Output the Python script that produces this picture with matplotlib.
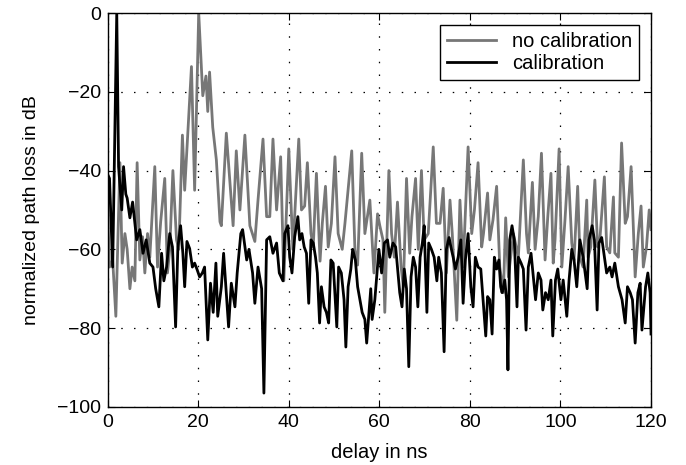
import matplotlib
matplotlib.use('Agg')
import matplotlib.pyplot as plt

plt.rcParams['font.family'] = ['Liberation Sans', 'DejaVu Sans']

# "no calibration" trace, (delay in ns, dB)
t_nocal = [0.0, 0.4, 1.1, 1.8, 2.2, 2.7, 3.2, 3.8, 4.3, 4.9, 5.4, 6.0, 6.5, 7.1, 7.7,
           8.2, 8.8, 9.3, 10.4, 11.0, 11.7, 12.6, 13.2, 13.7, 14.4, 15.2, 15.7, 16.5,
           17.0, 18.5, 19.2, 20.1, 21.0, 21.7, 22.1, 22.5, 23.2, 24.0, 24.8, 25.1,
           26.2, 27.0, 27.7, 28.4, 29.2, 30.3, 31.4, 32.5, 33.2, 34.3, 35.1, 35.8,
           36.5, 37.3, 38.2, 38.9, 40.0, 40.9, 42.2, 42.8, 43.5, 44.1, 44.9, 45.4,
           46.1, 46.9, 47.4, 48.1, 48.7, 49.4, 50.2, 50.9, 51.8, 52.4, 53.9, 54.6,
           55.2, 56.1, 56.8, 57.9, 58.8, 59.6, 60.1, 60.8, 61.2, 62.1, 62.7, 63.3,
           64.0, 64.8, 65.3, 66.0, 66.7, 67.2, 68.0, 68.6, 69.3, 69.9, 70.8, 71.9,
           72.6, 73.4, 74.1, 74.8, 75.6, 76.1, 77.1, 77.8, 78.5, 79.6, 80.4, 81.0,
           81.8, 82.6, 83.0, 83.9, 84.4, 85.1, 85.9, 86.6, 87.4, 87.9, 88.5, 89.6,
           90.7, 91.8, 92.5, 92.9, 93.8, 94.4, 95.1, 95.8, 96.6, 97.2, 97.9, 98.4,
           98.8, 99.7, 100.3, 101.0, 101.7, 102.5, 103.0, 103.8, 104.3, 105.0, 105.8,
           106.1, 106.7, 107.6, 108.2, 108.7, 109.7, 110.2, 110.9, 111.7, 112.0,
           112.8, 113.5, 114.3, 114.8, 115.6, 116.5, 117.2, 117.8, 118.3, 119.0,
           119.6, 120.0]
db_nocal = [-50, -64.5, -62.7, -77, -60, -38, -63.5, -56, -60, -70, -64.5, -68, -38,
            -62.7, -56.8, -66, -56, -62, -39, -64.5, -53, -42, -66, -60, -40, -57.6,
            -60, -31, -45, -13.6, -45, 0, -21, -16, -25, -15, -29, -37.3, -53, -54,
            -30.5, -43, -54, -35, -50, -31, -54, -58, -47.5, -32, -51.7, -51.7, -32,
            -50, -36.5, -68, -34.5, -60, -32, -50, -49, -38, -56, -59.4, -40.7, -63,
            -53.4, -44, -59.4, -53.4, -36.5, -56, -60, -53.4, -35, -60, -64, -35.6,
            -56, -47.5, -66, -51, -54, -57.6, -76, -40, -56, -62, -48, -64.5, -69.5,
            -42, -61, -51.7, -42, -60, -40, -57.6, -56, -34, -53.4, -53.4, -44.5, -66,
            -47.5, -56, -78, -47.5, -64.5, -34, -56, -50, -38, -59.4, -56, -45.7,
            -57.6, -52.5, -44, -64.5, -71, -52, -67, -56, -62, -37.3, -56, -60.9, -43,
            -60, -51.7, -35.6, -62.7, -51.7, -40.7, -63.5, -57.6, -34.5, -64.5, -52.5,
            -39, -58.4, -62.7, -44, -62, -64.5, -47.5, -62, -59.4, -42.4, -59.4,
            -57.6, -41.6, -59.4, -60.9, -46.7, -60.9, -62, -33, -53.4, -51.7, -39,
            -67, -56, -49, -64.5, -59.4, -50, -55]

# "calibration" trace
t_cal = [0.0, 0.4, 1.1, 2.0, 2.4, 3.1, 3.5, 4.0, 4.3, 4.9, 5.5, 6.4, 7.1, 7.8, 8.5,
         9.3, 10.0, 10.6, 11.3, 11.9, 12.4, 13.0, 13.7, 14.3, 15.0, 15.5, 16.1, 16.6,
         17.0, 17.5, 18.1, 18.7, 19.2, 19.7, 20.3, 20.9, 21.4, 22.1, 22.7, 23.3, 23.9,
         24.3, 25.1, 25.6, 26.2, 26.7, 27.3, 28.1, 28.6, 29.4, 29.8, 30.7, 31.2, 32.0,
         32.5, 33.2, 34.0, 34.5, 35.1, 35.8, 36.5, 37.3, 37.9, 38.7, 39.1, 39.8, 40.2,
         40.7, 41.3, 42.0, 42.4, 42.9, 43.4, 43.9, 44.4, 44.9, 45.4, 45.9, 46.3, 46.8,
         47.2, 47.8, 48.3, 48.8, 49.3, 49.8, 50.6, 51.0, 51.6, 52.2, 52.6, 53.1, 53.7,
         54.1, 54.7, 55.2, 55.7, 56.2, 56.8, 57.2, 57.7, 58.1, 58.4, 59.0, 59.4, 59.9,
         60.5, 61.1, 61.8, 62.3, 63.0, 63.6, 64.2, 64.5, 65.0, 65.5, 66.0, 66.5, 67.0,
         67.5, 68.0, 68.5, 69.0, 69.5, 69.9, 70.5, 70.9, 71.5, 72.1, 72.7, 73.1, 73.7,
         74.3, 74.8, 75.4, 75.8, 76.3, 76.8, 77.4, 78.0, 78.5, 79.0, 79.6, 80.2, 80.7,
         81.2, 81.8, 82.4, 82.9, 83.5, 83.9, 84.4, 84.9, 85.4, 85.9, 86.4, 86.8, 87.1,
         87.7, 88.1, 88.4, 88.8, 89.3, 89.8, 90.4, 90.7, 91.3, 91.8, 92.4, 92.9, 93.5,
         94.0, 94.5, 95.1, 95.7, 96.1, 96.7, 97.3, 97.9, 98.3, 98.9, 99.4, 100.1,
         100.6, 101.4, 101.9, 102.5, 103.0, 103.6, 104.3, 105.0, 105.9, 106.3, 107.0,
         107.5, 108.1, 108.5, 109.1, 109.7, 110.2, 110.9, 111.4, 112.0, 112.8, 113.6,
         114.3, 114.8, 115.4, 115.9, 116.5, 117.1, 117.6, 118.0, 118.8, 119.3, 119.8,
         120.0]
db_cal = [-41, -42, -64.5, 0, -39, -50, -39, -46, -47, -52, -48, -57.6, -55, -61, -57.6,
          -63.5, -64.5, -70, -74.6, -61, -68, -64.5, -56, -59.4, -79.7, -59.4, -54, -61,
          -69.5, -58, -59.8, -64.5, -63.5, -65, -67, -66, -64.5, -83, -68.6, -76, -63.5,
          -77, -69.5, -61, -71, -79.7, -68.6, -74.6, -66, -56, -55, -62.7, -60, -66,
          -73.7, -64.5, -70, -96.5, -57.6, -56.8, -61, -58.4, -66, -68, -56, -54, -62,
          -66, -56.8, -51.7, -57.6, -56, -59.4, -61, -73.7, -57.6, -58.4, -62, -66,
          -78.7, -69.5, -74.6, -76, -78.7, -62.7, -63.5, -79.7, -64.5, -66, -72.8,
          -84.8, -69.5, -65, -60, -62.7, -69.5, -72.8, -76, -77.8, -83.8, -76, -70,
          -77.8, -72.8, -67, -60, -66, -58.4, -57.6, -62, -58.4, -59.4, -67, -71, -74.6,
          -65, -70, -89.8, -67, -62, -64.5, -74.6, -62, -58.4, -54, -76, -58.4, -60, -62,
          -68, -62, -66, -86, -60, -57, -59.4, -62, -65, -62, -57.6, -73.7, -62.7, -56,
          -69.5, -74.6, -62, -64.5, -65, -72.8, -82, -72, -72.8, -81.5, -62, -65, -62.7,
          -69.5, -71, -67.8, -72.8, -90.6, -57.6, -54, -57.6, -74.6, -62, -63.5, -65,
          -80.5, -64.5, -61, -67, -72.8, -66, -67.8, -75.4, -71, -72.8, -67.8, -82,
          -67.8, -65, -72.8, -67.8, -77, -67.8, -60, -62.7, -69.5, -57.6, -62, -70,
          -57.6, -54, -57.6, -75.4, -58.4, -57, -62, -66, -64.5, -67, -63.5, -69.5,
          -72.8, -78.7, -69.5, -71, -72.8, -83.8, -71, -68.6, -80.5, -69.5, -66, -71,
          -81.5]

x_ticks = [0, 20, 40, 60, 80, 100, 120]
y_ticks = [-100, -80, -60, -40, -20, 0]

fig = plt.figure(figsize=(6.86, 4.65), dpi=100)
ax = fig.add_axes([0.157, 0.125, 0.792, 0.847])

ax.plot(t_nocal, db_nocal, color='#777777', lw=2.0, label='no calibration')
ax.plot(t_cal, db_cal, color='black', lw=2.0, label='calibration')

ax.set_xlim(0, 120)
ax.set_ylim(-100, 0)
ax.set_xticks(x_ticks)
ax.set_yticks(y_ticks)
ax.tick_params(direction='in', top=True, right=True, labelsize=14, length=5, pad=5)
ax.grid(True, color='black', linestyle=(0, (1.2, 9)), linewidth=0.9)
for s in ax.spines.values():
    s.set_linewidth(1.0)

ax.set_xlabel('delay in ns', fontsize=14.5, labelpad=9)
ax.set_ylabel('normalized path loss in dB', fontsize=14, labelpad=12)

leg = ax.legend(loc='upper right', fontsize=14.5, fancybox=False, framealpha=1,
                edgecolor='black', handlelength=2.4, borderpad=0.35,
                labelspacing=0.15, borderaxespad=0.6)
leg.get_frame().set_linewidth(1.0)

fig.savefig('out.png', dpi=100)
